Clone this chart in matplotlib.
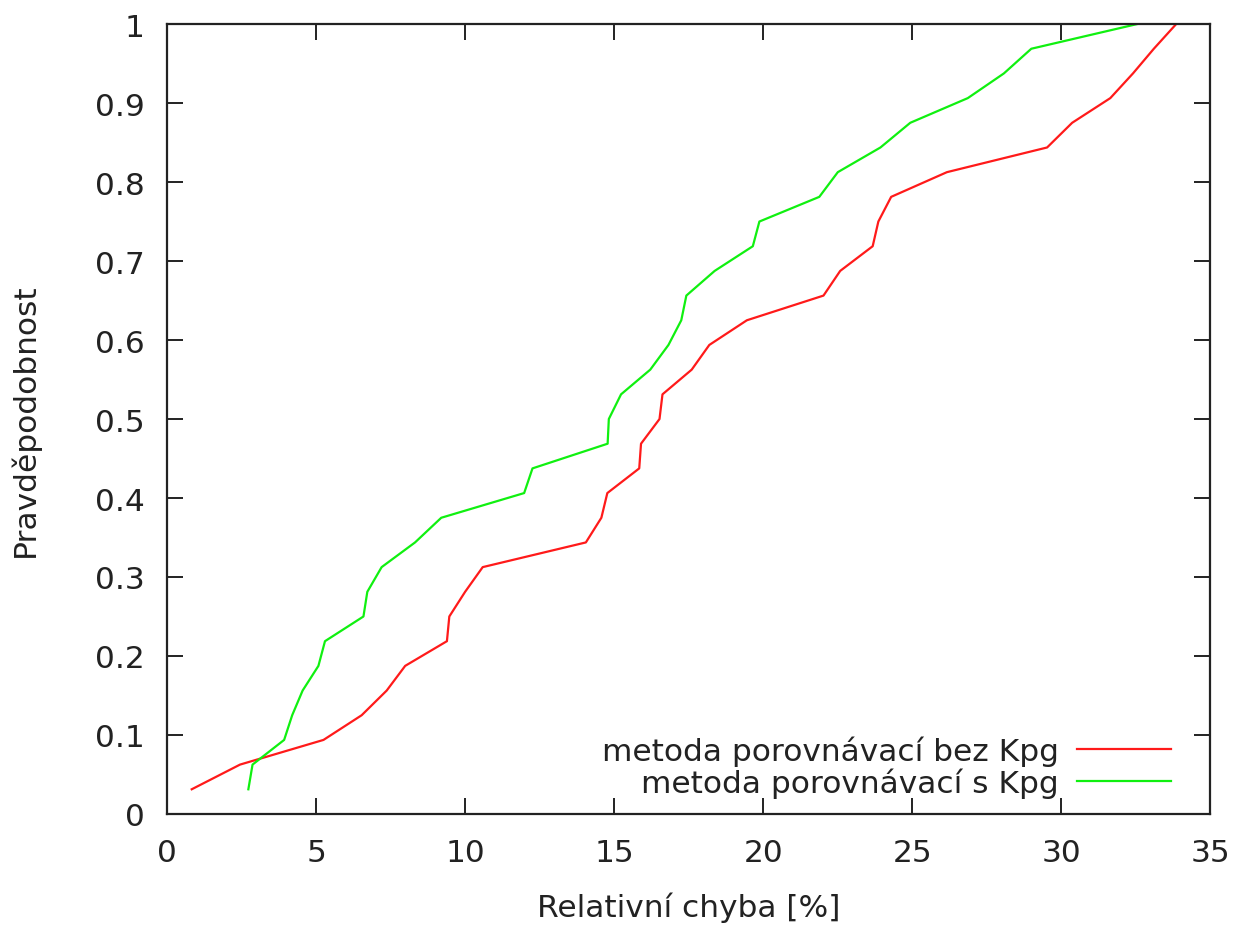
import matplotlib
matplotlib.use("Agg")
from matplotlib import pyplot as plt
import numpy as np

# probabilities (ECDF steps of 1/32)
prob = [0.03125, 0.0625, 0.09375, 0.125, 0.15625, 0.1875, 0.21875, 0.25,
        0.28125, 0.3125, 0.34375, 0.375, 0.40625, 0.4375, 0.46875, 0.5,
        0.53125, 0.5625, 0.59375, 0.625, 0.65625, 0.6875, 0.71875, 0.75,
        0.78125, 0.8125, 0.84375, 0.875, 0.90625, 0.9375, 0.96875, 1.0]

# relative error [%] - method without Kpg
err_bez = [0.83, 2.45, 5.25, 6.53, 7.37, 7.99, 9.39, 9.47,
           10.0, 10.59, 14.05, 14.57, 14.77, 15.84, 15.9, 16.52,
           16.62, 17.6, 18.19, 19.45, 22.02, 22.58, 23.67, 23.86,
           24.29, 26.16, 29.52, 30.36, 31.64, 32.4, 33.1, 33.85]

# relative error [%] - method with Kpg
err_s = [2.73, 2.87, 3.93, 4.2, 4.55, 5.08, 5.30, 6.59,
         6.72, 7.2, 8.32, 9.2, 11.98, 12.26, 14.78, 14.82,
         15.23, 16.21, 16.82, 17.25, 17.42, 18.37, 19.65, 19.87,
         21.88, 22.5, 23.93, 24.93, 26.86, 28.07, 28.99, 32.54]

labels = ["metoda porovnávací bez Kpg", "metoda porovnávací s Kpg"]
ytick_labels = ["0", "0.1", "0.2", "0.3", "0.4", "0.5", "0.6", "0.7", "0.8", "0.9", "1"]

txt = "#222222"
fs = 22.5

fig = plt.figure(figsize=(12.46, 9.28), dpi=100)
ax = fig.add_axes([0.134, 0.1218, 0.8375, 0.8512])

ax.plot(err_bez, prob, color="#ff1a1a", lw=1.6, label=labels[0])
ax.plot(err_s, prob, color="#10f010", lw=1.6, label=labels[1])

ax.set_xlim(0, 35)
ax.set_ylim(0, 1)
ax.set_xticks(np.arange(0, 36, 5))
ax.set_yticks(np.arange(0, 1.01, 0.1))
ax.set_yticklabels(ytick_labels)

ax.tick_params(direction="in", length=11.5, width=1.4, labelsize=fs,
               top=True, right=True, color="#222222", labelcolor=txt)
ax.tick_params(axis="x", pad=17)
ax.tick_params(axis="y", pad=16)
for sp in ax.spines.values():
    sp.set_linewidth(1.6)
    sp.set_color("#222222")

ax.set_xlabel("Relativní chyba [%]", fontsize=fs, color=txt)
ax.set_ylabel("Pravděpodobnost", fontsize=fs, color=txt)
ax.xaxis.set_label_coords(0.5, -0.118, transform=ax.transAxes)
ax.yaxis.set_label_coords(-0.136, 0.5, transform=ax.transAxes)
ax.xaxis.label.set_va("center")
ax.yaxis.label.set_va("center")

leg = ax.legend(loc="lower right", bbox_to_anchor=(0.9617, 0.02),
                frameon=False, markerfirst=False, fontsize=fs,
                handlelength=3.0, handletextpad=0.58, labelspacing=0.05,
                borderaxespad=0, borderpad=0)
for t in leg.get_texts():
    t.set_ha("right")
    t.set_color(txt)

fig.savefig("out.png", dpi=100)
